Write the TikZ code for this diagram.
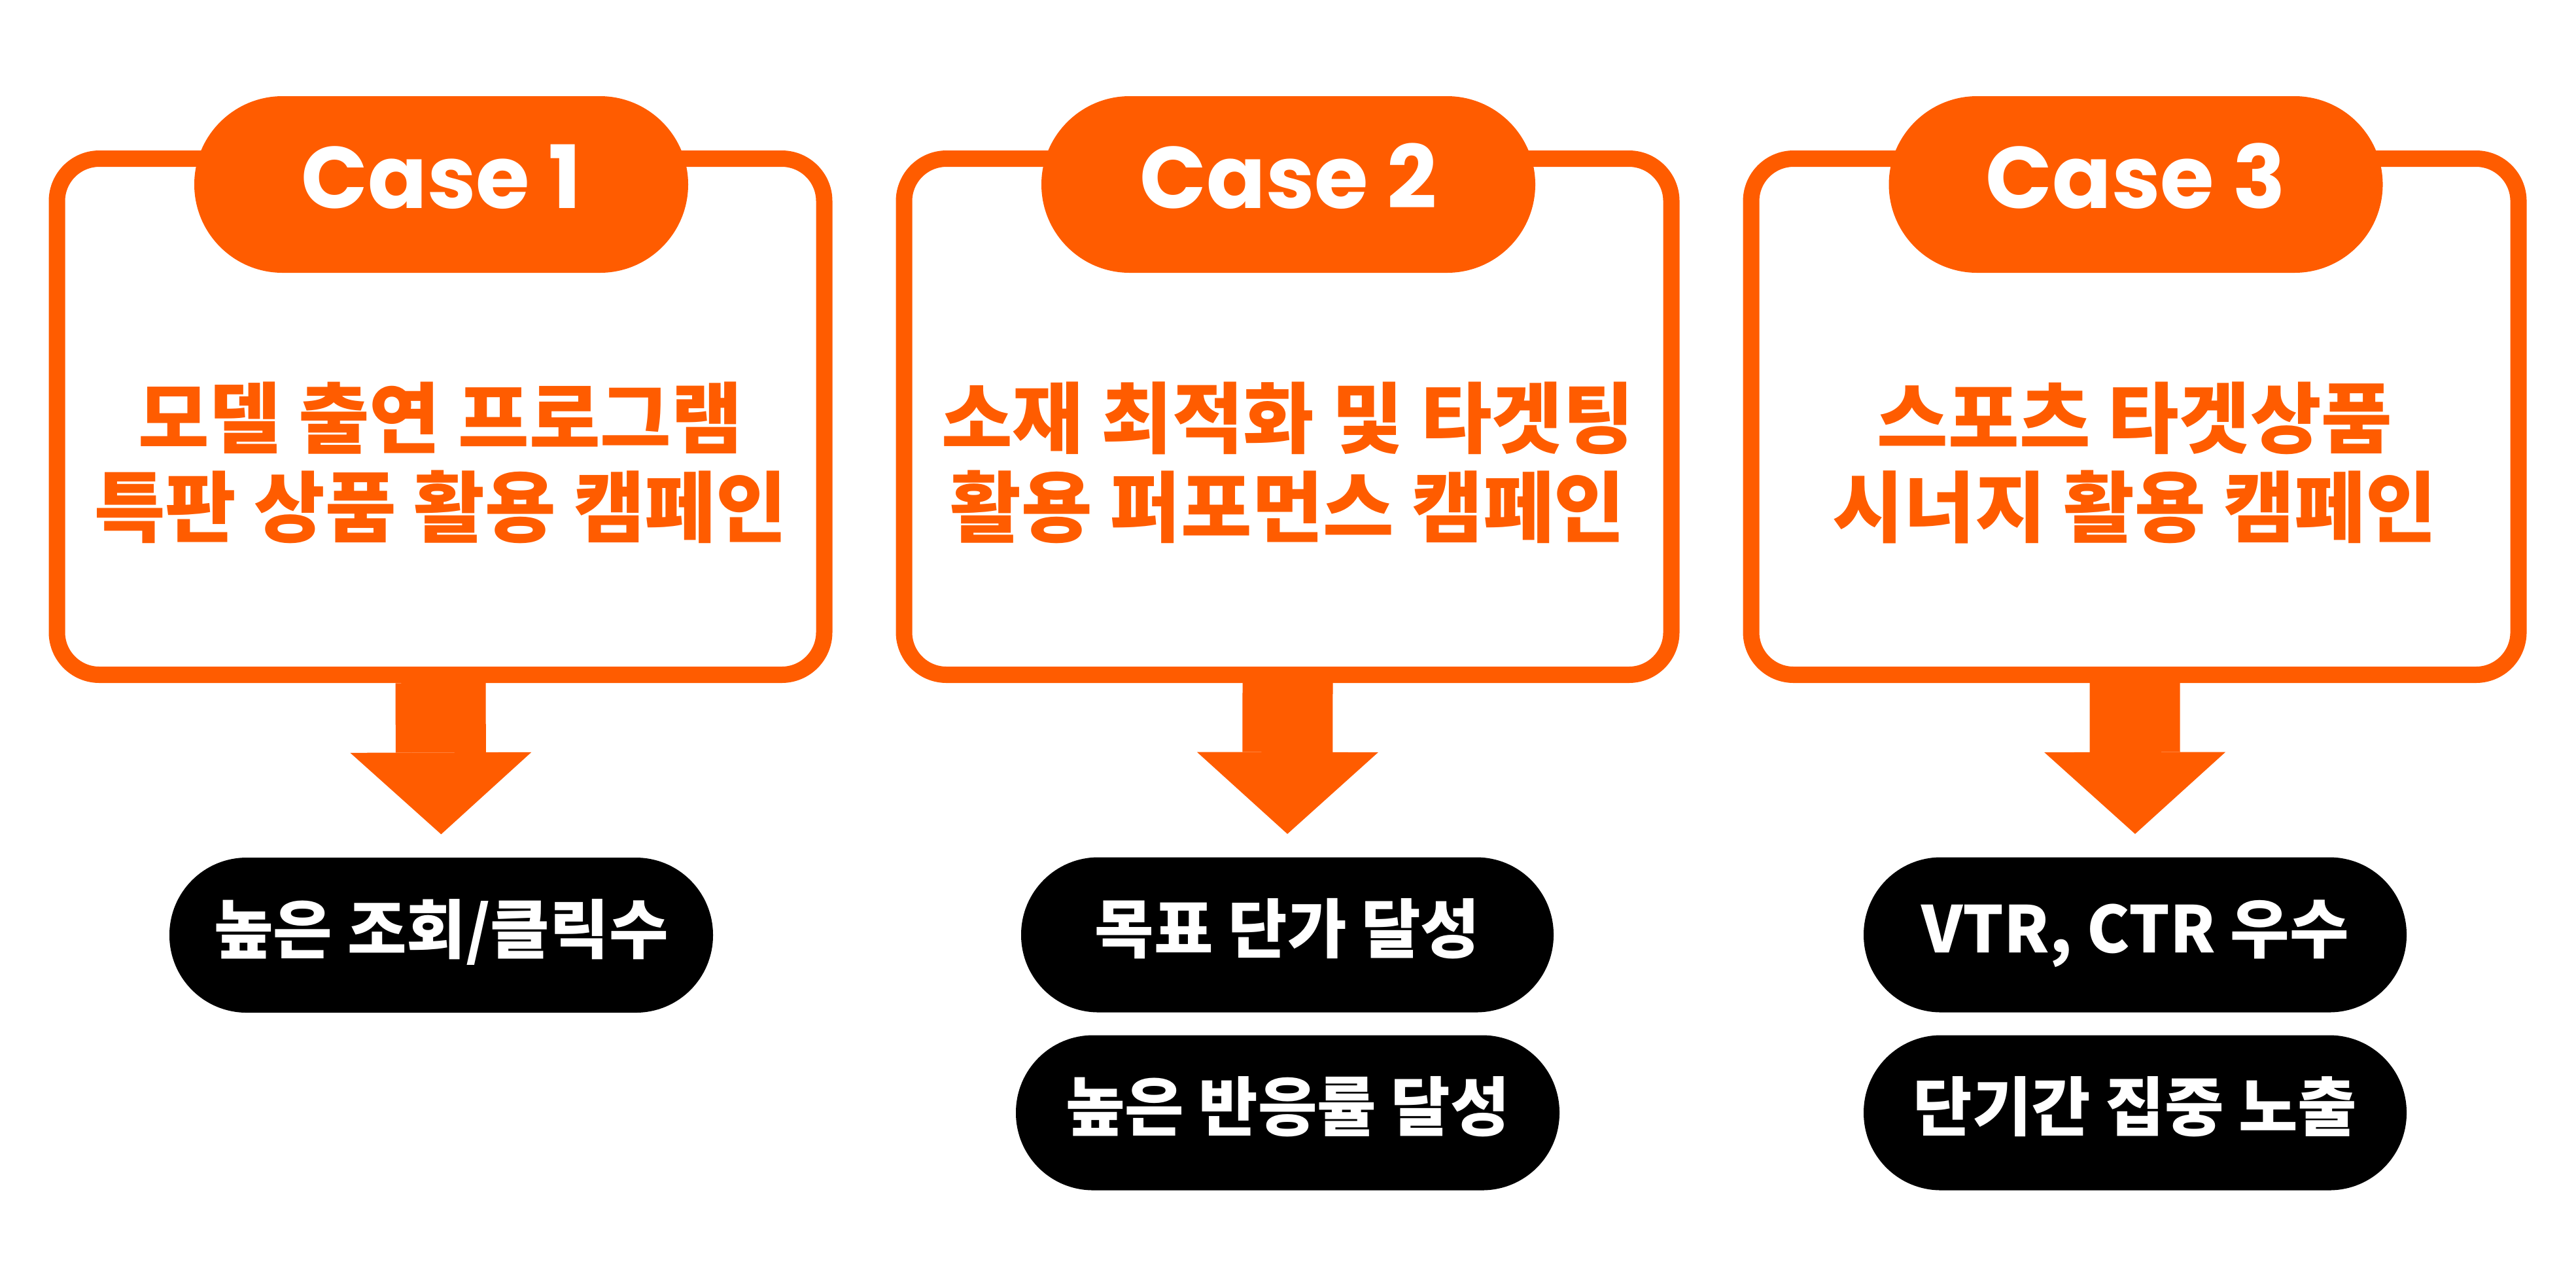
\documentclass[tikz,border=0pt]{standalone}
\usepackage{fontspec}
\usepackage{tikz}
\usetikzlibrary{arrows.meta}
\newfontfamily\krfont{Noto Sans CJK KR}
\newfontfamily\casefont{Poppins}
\definecolor{caseorange}{RGB}{255,92,0}

\tikzset{
  casebox/.style={draw=caseorange, line width=0.25cm, rounded corners=0.65cm,
    minimum width=11.73cm, minimum height=7.89cm},
  casepill/.style={fill=caseorange, text=white, rounded corners=1.35cm,
    minimum width=7.55cm, minimum height=2.7cm, text height=0.93cm, text depth=0.21cm,
    font=\casefont\bfseries\fontsize{38}{38}\selectfont},
  casetitle/.style={text=caseorange, align=center,
    font=\krfont\bfseries\fontsize{33.6}{38.7}\selectfont},
  result/.style={fill=black, text=white, rounded corners=1.18cm,
    minimum height=2.37cm, text height=0.87cm, text depth=0.32cm,
    font=\krfont\bfseries\fontsize{28}{28}\selectfont},
  downarrow/.style={draw=caseorange, line width=1.38cm, shorten >=0.35cm,
    -{Triangle[length=1.25cm, width=2.77cm, line width=0pt]}},
}

\begin{document}
\begin{tikzpicture}
    \useasboundingbox (0,0) rectangle (39.38,-19.45);
    % case 1
    \node[casebox] (b1) at (6.735,-6.37) {};
    \node[casepill] (c1) at (6.745,-2.82) {Case 1};
    \node[casetitle] (t1) at (6.735,-7.07) {모델 출연 프로그램\\특판 상품 활용 캠페인};
    \node[result, minimum width=8.31cm] (r1) at (6.745,-14.295) {높은 조회/클릭수};
    \draw[downarrow] (b1.south) -- (r1.north);
    % case 2
    \node[casebox] (b2) at (19.685,-6.37) {};
    \node[casepill] (c2) at (19.695,-2.82) {Case 2};
    \node[casetitle] (t2) at (19.685,-7.07) {소재 최적화 및 타겟팅\\활용 퍼포먼스 캠페인};
    \node[result, minimum width=8.14cm] (r2) at (19.68,-14.29) {목표 단가 달성};
    \node[result, minimum width=8.31cm] (r3) at (19.685,-17.01) {높은 반응률 달성};
    \draw[downarrow] (b2.south) -- (r2.north);
    % case 3
    \node[casebox] (b3) at (32.635,-6.37) {};
    \node[casepill] (c3) at (32.65,-2.82) {Case 3};
    \node[casetitle] (t3) at (32.635,-7.07) {스포츠 타겟상품\\시너지 활용 캠페인};
    \node[result, minimum width=8.30cm] (r4) at (32.64,-14.29) {VTR, CTR 우수};
    \node[result, minimum width=8.30cm] (r5) at (32.64,-17.01) {단기간 집중 노출};
    \draw[downarrow] (b3.south) -- (r4.north);
\end{tikzpicture}
\end{document}
